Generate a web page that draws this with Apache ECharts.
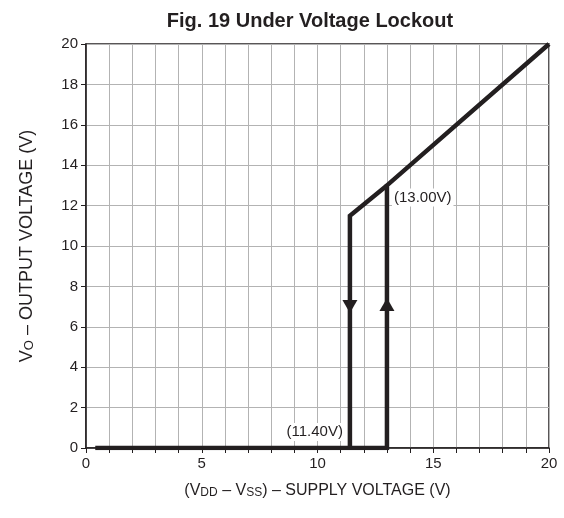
<!DOCTYPE html>
<html><head><meta charset="utf-8">
<script src="https://cdn.jsdelivr.net/npm/echarts@6/dist/echarts.min.js"></script>
<style>html,body{margin:0;padding:0;background:#fff}#c{width:564px;height:518px}</style>
</head><body><div id="c"></div>
<script>
// Data
const titleText = 'Fig. 19 Under Voltage Lockout';
const riseX = [0.4, 13, 13, 20];
const riseY = [0, 0, 13, 20];
const fallX = [11.4, 11.4, 13];
const fallY = [0, 11.5, 13];
const arrowDownPt = [11.4, 7.0];
const arrowUpPt = [13, 7.1];
const annotTexts = ['(13.00V)', '(11.40V)'];
const annotPts = [[13, 13], [11.4, 0]];
const xTicks = [0, 5, 10, 15, 20];
const yTicks = [0, 2, 4, 6, 8, 10, 12, 14, 16, 18, 20];

const ink = '#231f20';
const font = 'Liberation Sans, Arial, sans-serif';
const chart = echarts.init(document.getElementById('c'), null, {renderer: 'canvas'});
const zip = (a, b) => a.map((v, i) => [v, b[i]]);

chart.setOption({
  animation: false,
  backgroundColor: '#fff',
  title: {
    text: titleText, left: 305, textAlign: 'center', top: 6,
    textStyle: {fontFamily: font, fontSize: 20, fontWeight: 'bold', color: ink}
  },
  grid: {left: 86, right: 15, top: 44, bottom: 70, show: true, borderColor: ink, borderWidth: 1.5, backgroundColor: 'transparent'},
  xAxis: {
    type: 'value', min: 0, max: 20, interval: 1,
    name: '{t|(V}{s|DD}{t| – V}{s|SS}{t|) – SUPPLY VOLTAGE (V)}',
    nameLocation: 'middle', nameGap: 33,
    nameTextStyle: {rich: {
      t: {fontFamily: font, fontSize: 16, color: ink, verticalAlign: 'bottom', lineHeight: 18},
      s: {fontFamily: font, fontSize: 12, color: ink, verticalAlign: 'bottom', lineHeight: 14}
    }},
    axisLine: {lineStyle: {color: ink, width: 1.5}},
    axisTick: {length: 5, lineStyle: {color: ink}},
    axisLabel: {fontFamily: font, fontSize: 15, color: ink, margin: 8,
      formatter: v => xTicks.includes(v) ? String(v) : ''},
    splitLine: {show: true, lineStyle: {color: '#b3b3b3', width: 1}}
  },
  yAxis: {
    type: 'value', min: 0, max: 20, interval: 2,
    name: '{t|V}{s|O}{t| – OUTPUT VOLTAGE (V)}',
    nameLocation: 'middle', nameGap: 50, nameRotate: 90,
    nameTextStyle: {rich: {
      t: {fontFamily: font, fontSize: 18, color: ink, verticalAlign: 'bottom', lineHeight: 20},
      s: {fontFamily: font, fontSize: 13, color: ink, verticalAlign: 'bottom', lineHeight: 15}
    }},
    axisLine: {show: true, lineStyle: {color: ink, width: 1.5}},
    axisTick: {show: true, length: 5, lineStyle: {color: ink}},
    axisLabel: {fontFamily: font, fontSize: 15, color: ink, margin: 8,
      formatter: v => yTicks.includes(v) ? String(v) : ''},
    splitLine: {show: true, lineStyle: {color: '#b3b3b3', width: 1}}
  },
  series: [
    {type: 'line', data: zip(riseX, riseY), showSymbol: false, symbol: 'none',
     lineStyle: {color: ink, width: 4.5, join: 'miter'}, z: 5},
    {type: 'line', data: zip(fallX, fallY), showSymbol: false, symbol: 'none',
     lineStyle: {color: ink, width: 4.5, join: 'miter'}, z: 5},
    {type: 'scatter', data: [arrowDownPt], symbol: 'triangle', symbolSize: [15, 13], symbolRotate: 180,
     itemStyle: {color: ink, opacity: 1}, z: 6},
    {type: 'scatter', data: [arrowUpPt], symbol: 'triangle', symbolSize: [15, 13],
     itemStyle: {color: ink, opacity: 1}, z: 6},
    {type: 'scatter', symbolSize: 0, z: 7, itemStyle: {opacity: 1},
     data: [
       {value: annotPts[0], label: {show: true, formatter: annotTexts[0], position: 'right', offset: [0, 12]}},
       {value: annotPts[1], label: {show: true, formatter: annotTexts[1], position: 'left', offset: [0, -16]}}
     ],
     label: {fontFamily: font, fontSize: 15, color: ink, backgroundColor: '#fff', padding: [2, 2, 1, 2]}}
  ]
});
</script></body></html>
